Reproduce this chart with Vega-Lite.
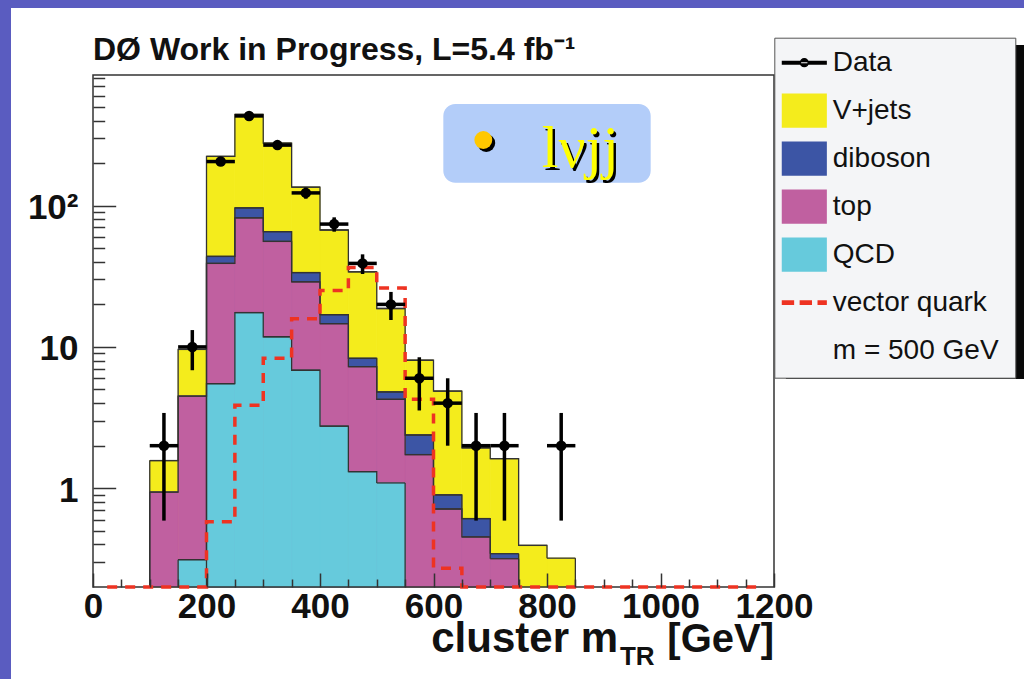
{
  "$schema": "https://vega.github.io/schema/vega-lite/v6.json",
  "width": 681,
  "height": 512,
  "autosize": {"type": "none"},
  "padding": {"left": 93, "top": 75, "right": 250, "bottom": 92},
  "background": "#5a5cc0",
  "config": {"view": {"stroke": null}, "font": "Liberation Sans"},
  "title": {"text": "DØ Work in Progress, L=5.4 fb⁻¹", "anchor": "start", "frame": "group", "font": "Liberation Sans", "fontSize": 32, "fontWeight": "bold", "color": "#111111", "baseline": "alphabetic", "offset": -84},
  "resolve": {"axis": {"x": "independent", "y": "independent"}},
  "datasets": {
    "stack": [
      {"lo": 100, "hi": 150, "process": "V+jets", "stack_top": 1.57},
      {"lo": 150, "hi": 200, "process": "V+jets", "stack_top": 9.6},
      {"lo": 200, "hi": 250, "process": "V+jets", "stack_top": 223},
      {"lo": 250, "hi": 300, "process": "V+jets", "stack_top": 442},
      {"lo": 300, "hi": 350, "process": "V+jets", "stack_top": 277},
      {"lo": 350, "hi": 400, "process": "V+jets", "stack_top": 135},
      {"lo": 400, "hi": 450, "process": "V+jets", "stack_top": 67.2},
      {"lo": 450, "hi": 500, "process": "V+jets", "stack_top": 34.0},
      {"lo": 500, "hi": 550, "process": "V+jets", "stack_top": 18.7},
      {"lo": 550, "hi": 600, "process": "V+jets", "stack_top": 8.05},
      {"lo": 600, "hi": 650, "process": "V+jets", "stack_top": 4.87},
      {"lo": 650, "hi": 700, "process": "V+jets", "stack_top": 1.93},
      {"lo": 700, "hi": 750, "process": "V+jets", "stack_top": 1.62},
      {"lo": 750, "hi": 800, "process": "V+jets", "stack_top": 0.394},
      {"lo": 800, "hi": 850, "process": "V+jets", "stack_top": 0.32},
      {"lo": 200, "hi": 250, "process": "diboson", "stack_top": 43.7},
      {"lo": 250, "hi": 300, "process": "diboson", "stack_top": 96.3},
      {"lo": 300, "hi": 350, "process": "diboson", "stack_top": 65.4},
      {"lo": 350, "hi": 400, "process": "diboson", "stack_top": 33.6},
      {"lo": 400, "hi": 450, "process": "diboson", "stack_top": 16.9},
      {"lo": 450, "hi": 500, "process": "diboson", "stack_top": 8.31},
      {"lo": 500, "hi": 550, "process": "diboson", "stack_top": 4.8},
      {"lo": 550, "hi": 600, "process": "diboson", "stack_top": 2.38},
      {"lo": 600, "hi": 650, "process": "diboson", "stack_top": 0.897},
      {"lo": 650, "hi": 700, "process": "diboson", "stack_top": 0.61},
      {"lo": 700, "hi": 750, "process": "diboson", "stack_top": 0.344},
      {"lo": 100, "hi": 150, "process": "top", "stack_top": 0.94},
      {"lo": 150, "hi": 200, "process": "top", "stack_top": 4.49},
      {"lo": 200, "hi": 250, "process": "top", "stack_top": 39},
      {"lo": 250, "hi": 300, "process": "top", "stack_top": 81.9},
      {"lo": 300, "hi": 350, "process": "top", "stack_top": 55.8},
      {"lo": 350, "hi": 400, "process": "top", "stack_top": 28.9},
      {"lo": 400, "hi": 450, "process": "top", "stack_top": 14.6},
      {"lo": 450, "hi": 500, "process": "top", "stack_top": 7.25},
      {"lo": 500, "hi": 550, "process": "top", "stack_top": 4.26},
      {"lo": 550, "hi": 600, "process": "top", "stack_top": 1.73},
      {"lo": 600, "hi": 650, "process": "top", "stack_top": 0.713},
      {"lo": 650, "hi": 700, "process": "top", "stack_top": 0.452},
      {"lo": 700, "hi": 750, "process": "top", "stack_top": 0.317},
      {"lo": 150, "hi": 200, "process": "QCD", "stack_top": 0.312},
      {"lo": 200, "hi": 250, "process": "QCD", "stack_top": 5.49},
      {"lo": 250, "hi": 300, "process": "QCD", "stack_top": 17.5},
      {"lo": 300, "hi": 350, "process": "QCD", "stack_top": 11.8},
      {"lo": 350, "hi": 400, "process": "QCD", "stack_top": 6.84},
      {"lo": 400, "hi": 450, "process": "QCD", "stack_top": 2.75},
      {"lo": 450, "hi": 500, "process": "QCD", "stack_top": 1.31},
      {"lo": 500, "hi": 550, "process": "QCD", "stack_top": 1.09}
    ],
    "signal": [
      {"center": 25, "events": 0.2}, {"center": 75, "events": 0.2}, {"center": 125, "events": 0.2},
      {"center": 175, "events": 0.2}, {"center": 225, "events": 0.58}, {"center": 275, "events": 3.86},
      {"center": 325, "events": 8.3}, {"center": 375, "events": 15.8}, {"center": 425, "events": 25.1},
      {"center": 475, "events": 36.5}, {"center": 525, "events": 26.1}, {"center": 575, "events": 4.26},
      {"center": 625, "events": 0.272}, {"center": 675, "events": 0.2}, {"center": 725, "events": 0.2},
      {"center": 775, "events": 0.2}, {"center": 825, "events": 0.2}, {"center": 875, "events": 0.2},
      {"center": 925, "events": 0.2}, {"center": 975, "events": 0.2}, {"center": 1025, "events": 0.2},
      {"center": 1075, "events": 0.2}, {"center": 1125, "events": 0.2}, {"center": 1175, "events": 0.2}
    ],
    "observed": [
      {"lo": 100, "hi": 150, "center": 125, "events": 2, "err_lo": 0.59, "err_hi": 3.41},
      {"lo": 150, "hi": 200, "center": 175, "events": 10, "err_lo": 6.84, "err_hi": 13.16},
      {"lo": 200, "hi": 250, "center": 225, "events": 205, "err_lo": 190.7, "err_hi": 219.3},
      {"lo": 250, "hi": 300, "center": 275, "events": 431, "err_lo": 410.2, "err_hi": 451.8},
      {"lo": 300, "hi": 350, "center": 325, "events": 268, "err_lo": 251.6, "err_hi": 284.4},
      {"lo": 350, "hi": 400, "center": 375, "events": 123, "err_lo": 111.9, "err_hi": 134.1},
      {"lo": 400, "hi": 450, "center": 425, "events": 74, "err_lo": 65.4, "err_hi": 82.6},
      {"lo": 450, "hi": 500, "center": 475, "events": 39, "err_lo": 32.8, "err_hi": 45.2},
      {"lo": 500, "hi": 550, "center": 525, "events": 20, "err_lo": 15.5, "err_hi": 24.5},
      {"lo": 550, "hi": 600, "center": 575, "events": 6, "err_lo": 3.55, "err_hi": 8.45},
      {"lo": 600, "hi": 650, "center": 625, "events": 4, "err_lo": 2, "err_hi": 6},
      {"lo": 650, "hi": 700, "center": 675, "events": 2, "err_lo": 0.59, "err_hi": 3.41},
      {"lo": 700, "hi": 750, "center": 725, "events": 2, "err_lo": 0.59, "err_hi": 3.41},
      {"lo": 800, "hi": 850, "center": 825, "events": 2, "err_lo": 0.59, "err_hi": 3.41}
    ]
  },
  "layer": [
    {
      "data": {"values": [{}]},
      "mark": {"type": "rect", "fill": "white", "clip": false},
      "encoding": {
        "x": {"datum": -144.5, "type": "quantitative", "scale": {"domain": [0, 1200], "nice": false, "zero": false}, "axis": null},
        "x2": {"datum": 1660},
        "y": {"datum": 2502, "type": "quantitative", "scale": {"type": "log", "domain": [0.2, 840], "nice": false}, "axis": null},
        "y2": {"datum": 0.04}
      }
    },
    {
      "data": {"values": [{}]},
      "mark": {"type": "rect", "fill": "#080808", "clip": false},
      "encoding": {
        "x": {"datum": 1221, "type": "quantitative", "axis": null},
        "x2": {"datum": 1660},
        "y": {"datum": 1369, "type": "quantitative", "axis": null},
        "y2": {"datum": 5.93}
      }
    },
    {
      "data": {"name": "stack"},
      "mark": {"type": "rect", "strokeWidth": 0.8},
      "encoding": {
        "x": {"field": "lo", "type": "quantitative", "scale": {"domain": [0, 1200], "nice": false, "zero": false},
          "axis": {
            "orient": "bottom",
            "values": [0, 200, 400, 600, 800, 1000, 1200],
            "format": "d",
            "tickSize": -14,
            "tickColor": "#333333", "tickWidth": 1.5, "domain": false, "grid": false,
            "labelFont": "Liberation Sans", "labelFontSize": 35, "labelFontWeight": "bold", "labelColor": "#111111",
            "labelPadding": 16, "labelFlush": false, "labelOverlap": false, "labelBound": false,
            "title": null, "zindex": 1
          }
        },
        "x2": {"field": "hi"},
        "y": {"field": "stack_top", "type": "quantitative", "scale": {"type": "log", "domain": [0.2, 840], "nice": false},
          "axis": {
            "orient": "left",
            "values": [1, 10, 100],
            "labelExpr": "datum.value === 100 ? '10²' : datum.value === 10 ? '10' : '1'",
            "tickSize": -22.7,
            "tickColor": "#333333", "tickWidth": 1.5, "domain": false, "grid": false,
            "labelFont": "Liberation Sans", "labelFontSize": 35, "labelFontWeight": "bold", "labelColor": "#111111",
            "labelPadding": 37.7, "labelFlush": false, "labelOverlap": false, "labelBound": false, "labelOffset": 2,
            "title": null, "zindex": 1
          }
        },
        "y2": {"datum": 0.2},
        "stroke": {
          "field": "process", "type": "nominal",
          "scale": {
            "domain": ["Data", "V+jets", "diboson", "top", "QCD", "vector quark", "m = 500 GeV"],
            "range": ["#000000", "#f4ec1c", "#3c55a5", "#c060a0", "#66cadc", "#ee3322", "transparent"]
          },
          "legend": null
        },
        "color": {
          "field": "process", "type": "nominal",
          "scale": {
            "domain": ["Data", "V+jets", "diboson", "top", "QCD", "vector quark", "m = 500 GeV"],
            "range": ["#000000", "#f4ec1c", "#3c55a5", "#c060a0", "#66cadc", "#ee3322", "transparent"]
          },
          "legend": {
            "orient": "none", "legendX": 681.3, "legendY": -37.3, "direction": "vertical",
            "title": ".", "titleOrient": "right", "titleOpacity": 0, "titleFontSize": 10, "titlePadding": 12,
            "fillColor": "#f4f5f7", "strokeColor": "#555555", "padding": 2, "symbolOffset": 5,
            "symbolSize": 1900, "rowPadding": -5, "symbolStrokeWidth": 1.5,
            "labelFont": "Liberation Sans", "labelFontSize": 28, "labelColor": "#111111", "labelOffset": 5.5, "labelLimit": 400,
            "symbolType": {"expr": "'M0,-0.975L0,-0.975M0,0.975L0,0.975' + (datum.value === 'Data' ? 'M-1,-0.06H1V0.06H-1ZM-0.18,0A0.18,0.18,0,1,0,0.18,0A0.18,0.18,0,1,0,-0.18,0' : datum.value === 'vector quark' ? 'M-1,-0.075H-0.5V0.075H-1ZM-0.18,-0.075H0.32V0.075H-0.18ZM0.64,-0.075H1V0.075H0.64Z' : datum.value === 'm = 500 GeV' ? 'M-1,0H1' : 'M-1,-0.75H1V0.75H-1Z')"},
            "symbolStrokeColor": {"expr": "datum.value === 'Data' ? '#000000' : (datum.value === 'vector quark' || datum.value === 'm = 500 GeV') ? 'transparent' : '#333333'"}
          }
        }
      }
    },
    {
      "data": {"name": "stack"},
      "mark": {"type": "line", "interpolate": "step-after", "color": "#333333", "strokeWidth": 1.3},
      "encoding": {
        "x": {"field": "lo", "type": "quantitative", "axis": null},
        "y": {"field": "stack_top", "type": "quantitative", "axis": null},
        "detail": {"field": "process", "type": "nominal"}
      }
    },
    {
      "data": {"name": "stack"},
      "mark": {"type": "rule", "color": "#333333", "strokeWidth": 1.3},
      "encoding": {
        "x": {"field": "lo", "type": "quantitative", "axis": null},
        "x2": {"field": "hi"},
        "y": {"field": "stack_top", "type": "quantitative", "axis": null}
      }
    },
    {
      "data": {"name": "stack"},
      "transform": [{"aggregate": [{"op": "argmin", "field": "lo", "as": "first_bin"}], "groupby": ["process"]}],
      "mark": {"type": "rule", "color": "#333333", "strokeWidth": 1.3},
      "encoding": {
        "x": {"field": "first_bin.lo", "type": "quantitative", "axis": null},
        "y": {"field": "first_bin.stack_top", "type": "quantitative", "axis": null},
        "y2": {"datum": 0.2}
      }
    },
    {
      "data": {"name": "stack"},
      "transform": [{"aggregate": [{"op": "argmax", "field": "lo", "as": "last_bin"}], "groupby": ["process"]}],
      "mark": {"type": "rule", "color": "#333333", "strokeWidth": 1.3},
      "encoding": {
        "x": {"field": "last_bin.hi", "type": "quantitative", "axis": null},
        "y": {"field": "last_bin.stack_top", "type": "quantitative", "axis": null},
        "y2": {"datum": 0.2}
      }
    },
    {
      "data": {"values": [{}]},
      "mark": {"type": "rect", "fillOpacity": 0, "stroke": "#333333", "strokeWidth": 1.5},
      "encoding": {
        "x": {"datum": 0, "type": "quantitative",
          "axis": {
            "orient": "bottom",
            "values": [50, 100, 150, 250, 300, 350, 450, 500, 550, 650, 700, 750, 850, 900, 950, 1050, 1100, 1150],
            "tickSize": -8, "tickColor": "#333333", "tickWidth": 1.5, "domain": false, "grid": false,
            "labels": false, "title": null, "zindex": 1
          }
        },
        "x2": {"datum": 1200},
        "y": {"datum": 840, "type": "quantitative",
          "axis": {
            "orient": "left",
            "values": [0.3, 0.4, 0.5, 0.6, 0.7, 0.8, 0.9, 2, 3, 4, 5, 6, 7, 8, 9, 20, 30, 40, 50, 60, 70, 80, 90, 200, 300, 400, 500, 600, 700, 800],
            "tickSize": -11.7, "tickColor": "#333333", "tickWidth": 1.5, "domain": false, "grid": false,
            "labels": false, "title": null, "zindex": 1
          }
        },
        "y2": {"datum": 0.2}
      }
    },
    {
      "data": {"name": "signal"},
      "mark": {"type": "line", "interpolate": "step", "color": "#ee3322", "strokeWidth": 3.5, "strokeDash": [10, 8]},
      "encoding": {
        "x": {"field": "center", "type": "quantitative", "axis": null},
        "y": {"field": "events", "type": "quantitative", "axis": null}
      }
    },
    {
      "data": {"name": "observed"},
      "mark": {"type": "rule", "color": "#000000", "strokeWidth": 3.5},
      "encoding": {
        "x": {"field": "lo", "type": "quantitative", "axis": null},
        "x2": {"field": "hi"},
        "y": {"field": "events", "type": "quantitative", "axis": null}
      }
    },
    {
      "data": {"name": "observed"},
      "mark": {"type": "rule", "color": "#000000", "strokeWidth": 3.5},
      "encoding": {
        "x": {"field": "center", "type": "quantitative", "axis": null},
        "y": {"field": "err_lo", "type": "quantitative", "axis": null},
        "y2": {"field": "err_hi"}
      }
    },
    {
      "data": {"name": "observed"},
      "mark": {"type": "point", "filled": true, "color": "#000000", "opacity": 1, "size": 110},
      "encoding": {
        "x": {"field": "center", "type": "quantitative", "axis": null},
        "y": {"field": "events", "type": "quantitative", "axis": null}
      }
    },
    {
      "data": {"values": [{}]},
      "mark": {"type": "rect", "fill": "#b3cdf9", "cornerRadius": 12},
      "encoding": {
        "x": {"datum": 617.3, "type": "quantitative", "axis": null},
        "x2": {"datum": 982.7},
        "y": {"datum": 523.7, "type": "quantitative", "axis": null},
        "y2": {"datum": 145.3}
      }
    },
    {
      "data": {"values": [{}]},
      "mark": {"type": "point", "filled": true, "color": "#000000", "opacity": 1, "size": 320},
      "encoding": {
        "x": {"datum": 693, "type": "quantitative", "axis": null},
        "y": {"datum": 277.4, "type": "quantitative", "axis": null}
      }
    },
    {
      "data": {"values": [{}]},
      "mark": {"type": "point", "filled": true, "color": "#ffc800", "opacity": 1, "size": 320},
      "encoding": {
        "x": {"datum": 687.8, "type": "quantitative", "axis": null},
        "y": {"datum": 291.3, "type": "quantitative", "axis": null}
      }
    },
    {
      "data": {"values": [{}]},
      "mark": {"type": "text", "text": "lνjj", "font": "Liberation Serif", "fontSize": 60, "color": "#000000", "align": "left", "baseline": "alphabetic", "dx": 2.5, "dy": 3},
      "encoding": {
        "x": {"datum": 790.7, "type": "quantitative", "axis": null},
        "y": {"datum": 188.6, "type": "quantitative", "axis": null}
      }
    },
    {
      "data": {"values": [{}]},
      "mark": {"type": "text", "text": "lνjj", "font": "Liberation Serif", "fontSize": 60, "color": "#ffff00", "align": "left", "baseline": "alphabetic"},
      "encoding": {
        "x": {"datum": 790.7, "type": "quantitative", "axis": null},
        "y": {"datum": 188.6, "type": "quantitative", "axis": null}
      }
    },
    {
      "data": {"values": [{}]},
      "mark": {"type": "text", "text": "cluster m", "font": "Liberation Sans", "fontWeight": "bold", "fontSize": 42, "color": "#111111", "align": "right", "baseline": "alphabetic"},
      "encoding": {
        "x": {"datum": 925.1, "type": "quantitative", "axis": null},
        "y": {"datum": 0.0697, "type": "quantitative", "axis": null}
      }
    },
    {
      "data": {"values": [{}]},
      "mark": {"type": "text", "text": "TR", "font": "Liberation Sans", "fontWeight": "bold", "fontSize": 26, "color": "#111111", "align": "left", "baseline": "alphabetic"},
      "encoding": {
        "x": {"datum": 928.6, "type": "quantitative", "axis": null},
        "y": {"datum": 0.0561, "type": "quantitative", "axis": null}
      }
    },
    {
      "data": {"values": [{}]},
      "mark": {"type": "text", "text": "[GeV]", "font": "Liberation Sans", "fontWeight": "bold", "fontSize": 40, "color": "#111111", "align": "right", "baseline": "alphabetic"},
      "encoding": {
        "x": {"datum": 1200, "type": "quantitative", "axis": null},
        "y": {"datum": 0.0697, "type": "quantitative", "axis": null}
      }
    }
  ]
}
